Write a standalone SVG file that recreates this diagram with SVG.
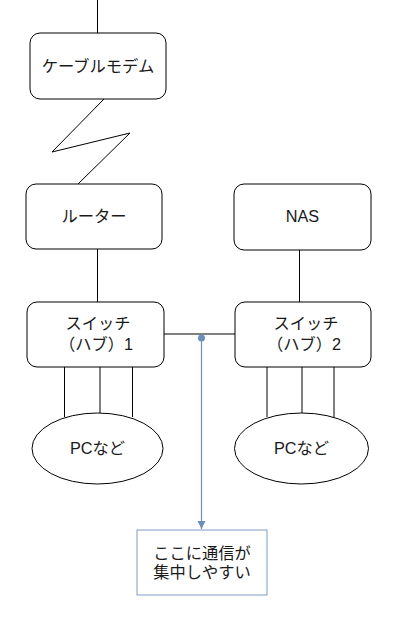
<svg xmlns="http://www.w3.org/2000/svg" width="407" height="620" viewBox="0 0 407 620">
<style>
.box{fill:#fff;stroke:#000;stroke-width:1}
.ln{fill:none;stroke:#000;stroke-width:1}
.t{font-family:"Liberation Sans","Noto Sans CJK JP",sans-serif;font-size:16.3px;fill:#1a1a1a;text-anchor:middle}
.blue{stroke:#6c8ebf;stroke-width:1.2;fill:none}
</style>
<defs>
<marker id="arr" markerWidth="10" markerHeight="10" refX="8" refY="4" orient="auto" markerUnits="userSpaceOnUse">
<path d="M0,0 L8,4 L0,8 Z" fill="#6c8ebf"/>
</marker>
</defs>
<rect width="407" height="620" fill="#fff"/>
<g id="connectors">
<line class="ln" x1="97.5" y1="0" x2="97.5" y2="33"/>
<polyline class="ln" points="104,99 52,152 130,133 78,184"/>
<line class="ln" x1="97.5" y1="249" x2="97.5" y2="302"/>
<line class="ln" x1="299.5" y1="250" x2="299.5" y2="302"/>
<line class="ln" x1="164" y1="334" x2="235" y2="334"/>
<line class="ln" x1="64.5" y1="367" x2="64.5" y2="417"/>
<line class="ln" x1="100" y1="367" x2="100" y2="413"/>
<line class="ln" x1="132.5" y1="367" x2="132.5" y2="417"/>
<line class="ln" x1="267" y1="367" x2="267" y2="417"/>
<line class="ln" x1="302" y1="367" x2="302" y2="413"/>
<line class="ln" x1="334" y1="367" x2="334" y2="417"/>
<circle cx="201.5" cy="338" r="3.5" fill="#6c8ebf"/>
<line class="blue" x1="201.5" y1="338" x2="201.5" y2="529" marker-end="url(#arr)"/>
</g>
<g id="modem">
<rect class="box" x="30" y="33" width="136" height="66" rx="10"/>
<text class="t" x="98" y="72">ケーブルモデム</text>
</g>
<g id="router">
<rect class="box" x="26" y="184" width="136" height="65" rx="10"/>
<text class="t" x="94" y="222">ルーター</text>
</g>
<g id="nas">
<rect class="box" x="234" y="184" width="137" height="66" rx="10"/>
<text class="t" x="302.5" y="222">NAS</text>
</g>
<g id="switch1">
<rect class="box" x="27" y="302" width="137" height="65" rx="10"/>
<text class="t" x="98" y="329">スイッチ</text>
<text class="t" x="96" y="350">（ハブ）1</text>
</g>
<g id="switch2">
<rect class="box" x="235" y="302" width="136" height="65" rx="10"/>
<text class="t" x="306" y="329">スイッチ</text>
<text class="t" x="304" y="350">（ハブ）2</text>
</g>
<g id="pc1">
<ellipse class="box" cx="97.5" cy="448.5" rx="65.5" ry="35.5"/>
<text class="t" x="97.5" y="454">PCなど</text>
</g>
<g id="pc2">
<ellipse class="box" cx="301.5" cy="448.5" rx="67" ry="35.5"/>
<text class="t" x="301.5" y="454">PCなど</text>
</g>
<g id="note">
<rect x="137" y="530" width="130" height="65" fill="#fff" stroke="#7f9cc4" stroke-width="1"/>
<text class="t" x="202" y="559">ここに通信が</text>
<text class="t" x="202" y="578">集中しやすい</text>
</g>
</svg>
